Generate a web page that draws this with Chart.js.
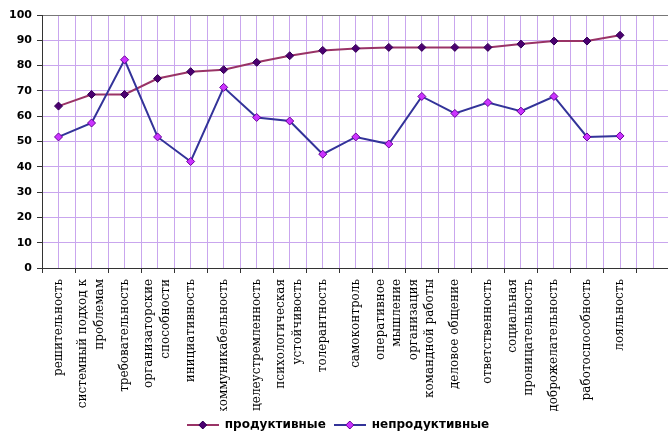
<!DOCTYPE html>
<html>
<head>
<meta charset="utf-8">
<script src="https://cdn.jsdelivr.net/npm/chart.js@4/dist/chart.umd.min.js"></script>
<style>
    html, body { margin: 0; padding: 0; overflow: hidden; background: #fff; }
</style>
</head>
<body>
<canvas id="chart" width="676" height="441"></canvas>
<script>
// Data
const categories = [
    'решительность',
    ['системный подход к', 'проблемам'],
    'требовательность',
    ['организаторские', 'способности'],
    'инициативность',
    'коммуникабельность',
    'целеустремленность',
    ['психологическая', 'устойчивость'],
    'толерантность',
    'самоконтроль',
    ['оперативное', 'мышление'],
    ['организация', 'командной работы'],
    'деловое общение',
    'ответственность',
    ['социальная', 'проницательность'],
    'доброжелательность',
    'работоспособность',
    'лояльность',
    ''
];
const productive = [64, 68.6, 68.6, 74.9, 77.6, 78.4, 81.3, 83.9, 86, 86.8, 87.2, 87.2, 87.2, 87.2, 88.5, 89.7, 89.7, 92];
const unproductive = [51.8, 57.3, 82.3, 51.8, 42.1, 71.4, 59.5, 58.1, 45, 51.8, 49, 67.8, 61.1, 65.4, 62, 67.8, 51.8, 52.2];
const seriesNames = ['продуктивные', 'непродуктивные'];
const yMin = 0, yMax = 100, yStep = 10;

const gridColor = '#c9a6ee';
const axisColor = '#333333';

// legend sample: short line with a diamond in the middle
function legendSample(lineColor, fill, border) {
    const c = document.createElement('canvas');
    c.width = 32;
    c.height = 10;
    const g = c.getContext('2d');
    g.strokeStyle = lineColor;
    g.lineWidth = 2;
    g.beginPath();
    g.moveTo(0, 5);
    g.lineTo(32, 5);
    g.stroke();
    g.fillStyle = fill;
    g.strokeStyle = border;
    g.lineWidth = 1;
    g.beginPath();
    g.moveTo(16, 1);
    g.lineTo(20, 5);
    g.lineTo(16, 9);
    g.lineTo(12, 5);
    g.closePath();
    g.fill();
    g.stroke();
    return c;
}

const styles = [
    { line: '#993366', fill: '#4b0070', border: '#330055' },
    { line: '#333399', fill: '#cc33ff', border: '#660099' }
];
const samples = styles.map(s => legendSample(s.line, s.fill, s.border));

// rotated multi-line labels: center the lines around the tick
const centerMultiline = {
    id: 'centerMultiline',
    afterLayout(chart) {
        const items = chart.scales.x.getLabelItems();
        items.forEach(item => {
            const lines = Array.isArray(item.label) ? item.label.length : 1;
            item.textOffset -= (lines - 1) * item.font.lineHeight / 2;
        });
    }
};

const ctx = document.getElementById('chart').getContext('2d');
new Chart(ctx, {
    type: 'line',
    data: {
        labels: categories,
        datasets: [
            {
                label: seriesNames[0],
                data: productive,
                order: 1,
                borderColor: styles[0].line,
                borderWidth: 2,
                pointStyle: 'rectRot',
                pointRadius: 4,
                pointBackgroundColor: styles[0].fill,
                pointBorderColor: styles[0].border,
                pointBorderWidth: 1,
                tension: 0
            },
            {
                label: seriesNames[1],
                data: unproductive,
                order: 0,
                borderColor: styles[1].line,
                borderWidth: 2,
                pointStyle: 'rectRot',
                pointRadius: 4,
                pointBackgroundColor: styles[1].fill,
                pointBorderColor: styles[1].border,
                pointBorderWidth: 1,
                tension: 0
            }
        ]
    },
    plugins: [centerMultiline],
    options: {
        responsive: false,
        animation: false,
        layout: { padding: { top: 15, left: 0, right: 0, bottom: 0 } },
        plugins: {
            tooltip: { enabled: false },
            legend: {
                position: 'bottom',
                labels: {
                    usePointStyle: true,
                    pointStyleWidth: 32,
                    padding: 8,
                    color: '#000',
                    font: { family: 'DejaVu Sans', weight: 'bold', size: 12 },
                    sort: (a, b) => a.datasetIndex - b.datasetIndex,
                    generateLabels(chart) {
                        const items = Chart.defaults.plugins.legend.labels.generateLabels(chart);
                        items.forEach(it => { it.pointStyle = samples[it.datasetIndex]; });
                        return items;
                    }
                }
            }
        },
        scales: {
            x: {
                offset: true,
                grid: { offset: true, color: gridColor, tickColor: axisColor, tickLength: 5 },
                border: { color: axisColor },
                ticks: {
                    autoSkip: false,
                    maxRotation: 90,
                    minRotation: 90,
                    padding: 6,
                    color: '#000',
                    font: { family: 'DejaVu Serif', size: 12, lineHeight: 1.4 }
                },
                afterFit(scale) { scale.height = 143; }
            },
            x2: {
                type: 'category',
                labels: categories,
                position: 'top',
                offset: true,
                grid: { offset: false, color: gridColor, drawTicks: false },
                border: { color: '#777777' },
                ticks: { display: false },
                afterFit(scale) { scale.height = 0; }
            },
            y: {
                min: yMin,
                max: yMax,
                ticks: {
                    stepSize: yStep,
                    padding: 5,
                    color: '#000',
                    font: { family: 'DejaVu Sans', weight: 'bold', size: 11 }
                },
                grid: { color: gridColor, tickColor: axisColor, tickLength: 5 },
                border: { color: axisColor },
                afterFit(scale) { scale.width = 42; }
            }
        }
    }
});
</script>
</body>
</html>
